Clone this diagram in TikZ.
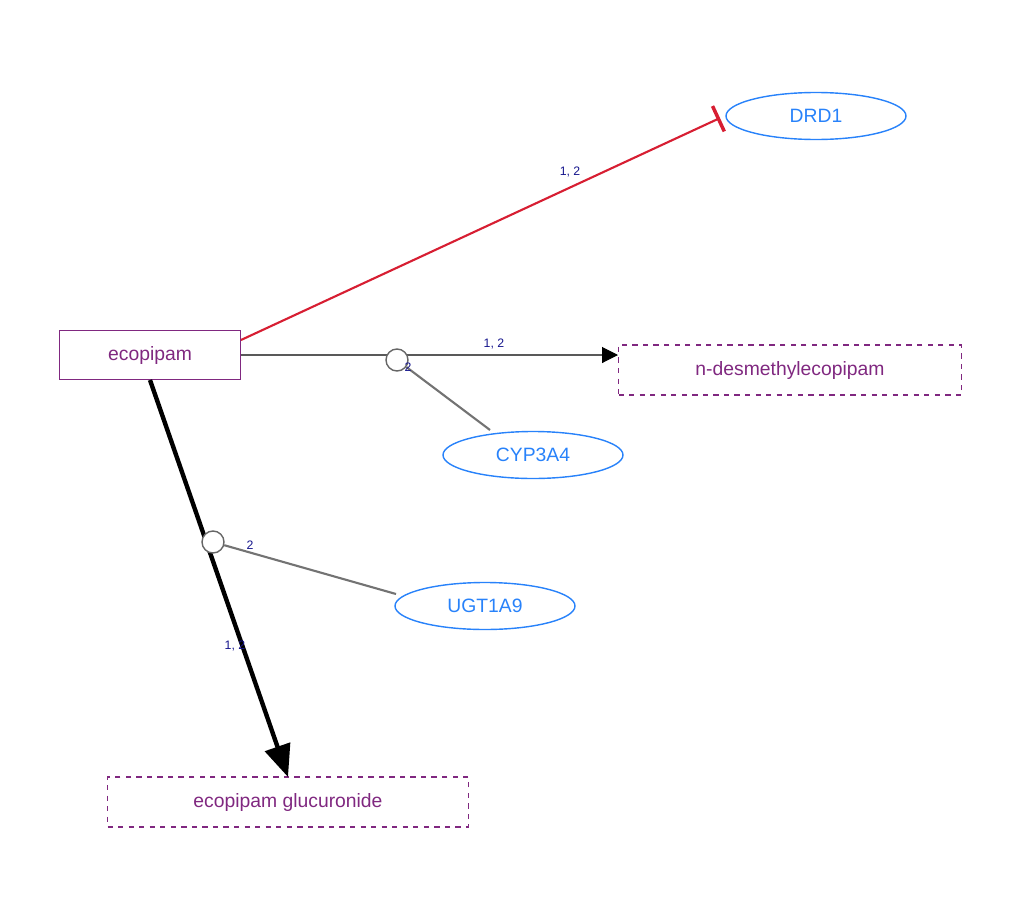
\documentclass[tikz,border=0pt]{standalone}
\usepackage{fontspec}
\setmainfont{Liberation Sans}
\usetikzlibrary{shapes.geometric,arrows.meta}
\definecolor{purp}{RGB}{128,40,128}
\definecolor{blu}{RGB}{40,130,250}
\definecolor{redd}{RGB}{215,30,50}
\definecolor{lab}{RGB}{20,20,140}
\tikzset{
 chem/.style={draw=purp,text=purp,rectangle,minimum width=181*0.02cm,minimum height=49*0.02cm,font=\fontsize{11}{13}\selectfont,line width=0.8pt},
 chemd/.style={chem,dashed},
 gene/.style={draw=blu,text=blu,ellipse,minimum width=180*0.02cm,minimum height=47*0.02cm,font=\fontsize{11}{13}\selectfont,line width=0.8pt},
 lbl/.style={text=lab,font=\fontsize{7}{8}\selectfont},
 mod/.style={circle,draw=gray!80!black,fill=white,minimum size=22*0.02cm,inner sep=0pt,line width=0.8pt}
}
\begin{document}
\begin{tikzpicture}[x=0.02cm,y=-0.02cm]
\useasboundingbox (0,0) rectangle (1024,916);
\node[chem] (eco) at (150,355) {ecopipam};
\node[gene] (drd) at (816,116) {DRD1};
\node[chemd,minimum width=343*0.02cm,minimum height=50*0.02cm] (nd) at (790,370) {n-desmethylecopipam};
\node[gene] (cyp) at (533,455) {CYP3A4};
\node[gene] (ugt) at (485,606) {UGT1A9};
\node[chemd,minimum width=361*0.02cm,minimum height=50*0.02cm] (gl) at (288,802) {ecopipam glucuronide};
\coordinate (e1) at (241,340);
\coordinate (d1) at (720,118);
\draw[redd,line width=1.2pt,-{Bar[width=28*0.02cm,line width=2pt]}] (e1) -- (d1);
\node[lbl] at (570,172) {1, 2};
\coordinate (e2) at (241,355);
\coordinate (n2) at (618,355);
\draw[draw=gray!70!black,line width=0.6pt,-{Triangle[length=16*0.02cm,width=16*0.02cm,color=black]}] (e2) -- (n2);
\node[mod] (m1) at (397,360) {};
\coordinate (c1) at (490,430);
\draw[gray!90!black,line width=1.2pt] (m1) -- (c1);
\node[lbl] at (494,344) {1, 2};
\node[lbl] at (408,367) {2};
\coordinate (e3) at (150,380);
\coordinate (g3) at (288,777);
\draw[black,line width=2.5pt,-{Triangle[length=32*0.02cm,width=26*0.02cm]}] (e3) -- (g3);
\node[mod] (m2) at (213,542) {};
\coordinate (u1) at (396,594);
\draw[gray!90!black,line width=1.2pt] (m2) -- (u1);
\node[lbl] at (250,545) {2};
\node[lbl] at (235,646) {1, 2};
\end{tikzpicture}
\end{document}
